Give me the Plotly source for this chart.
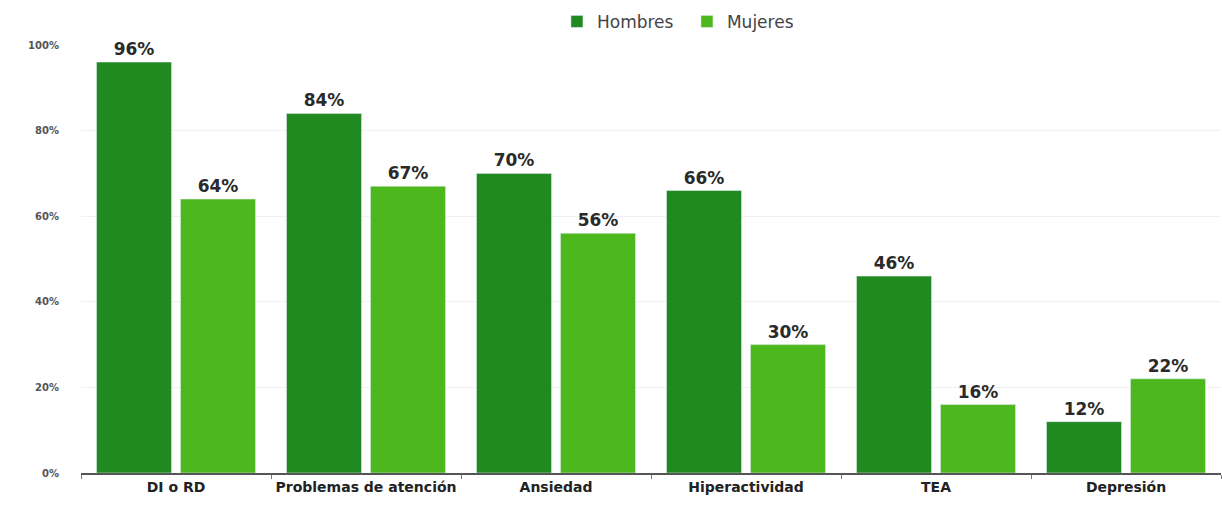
import plotly.graph_objects as go

categories = ["DI o RD", "Problemas de atención", "Ansiedad", "Hiperactividad", "TEA", "Depresión"]
hombres = [96, 84, 70, 66, 46, 12]
mujeres = [64, 67, 56, 30, 16, 22]
y_ticks = [0, 20, 40, 60, 80, 100]
y_tick_labels = ["0%", "20%", "40%", "60%", "80%", "100%"]

FONT = "DejaVu Sans, Liberation Sans, Arial, sans-serif"

fig = go.Figure()
fig.add_trace(go.Bar(
    name="Hombres", x=categories, y=hombres, marker_color="#208a20",
    texttemplate="%{y}%", textposition="outside",
    textfont=dict(family=FONT, size=17, color="#2a2a2a", weight="bold"),
    cliponaxis=False,
))
fig.add_trace(go.Bar(
    name="Mujeres", x=categories, y=mujeres, marker_color="#4cb81e",
    texttemplate="%{y}%", textposition="outside",
    textfont=dict(family=FONT, size=17, color="#2a2a2a", weight="bold"),
    cliponaxis=False,
))

fig.update_layout(
    width=1222, height=507,
    margin=dict(l=81, r=1, t=45, b=34),
    paper_bgcolor="white", plot_bgcolor="white",
    barmode="group", bargap=0.116, bargroupgap=0.107,
    font=dict(family=FONT, color="#333"),
    legend=dict(orientation="h", x=0.4175, xanchor="left", y=1.054, yanchor="middle",
                font=dict(family=FONT, size=17, color="#444"), itemwidth=30,
                entrywidth=85, entrywidthmode="pixels",
                traceorder="normal"),
    showlegend=True,
)
fig.update_yaxes(range=[0, 100], tickvals=y_ticks, ticktext=y_tick_labels,
                 showgrid=True, gridcolor="#f1f1f1", gridwidth=1,
                 zeroline=False, showline=False, automargin=False,
                 tickfont=dict(family=FONT, size=10, color="#555", weight="bold"),
                 ticklabelstandoff=21)
fig.update_xaxes(showline=True, linecolor="#555", linewidth=1.5,
                 ticks="outside", tickson="boundaries", ticklen=4, tickcolor="#777",
                 tickangle=0, automargin=False,
                 tickfont=dict(family=FONT, size=14, color="#222", weight="bold"),
                 showgrid=False)

fig.write_html("out.html")
